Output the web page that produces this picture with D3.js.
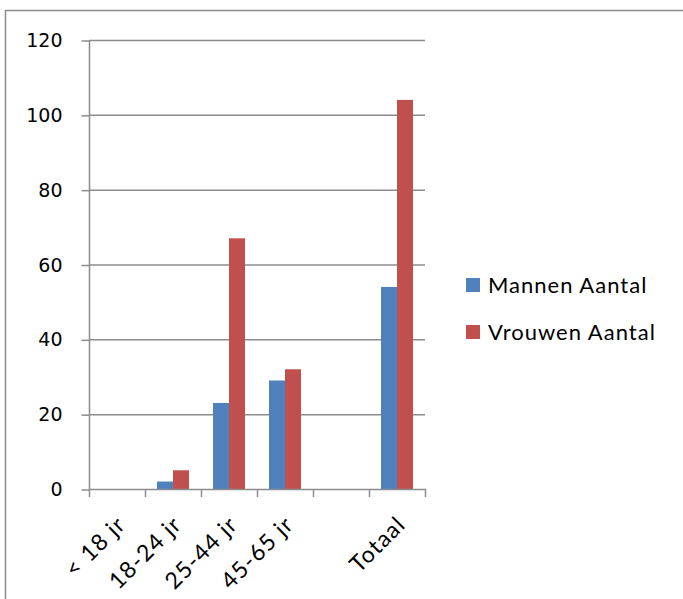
<!DOCTYPE html>
<html>
<head>
<meta charset="utf-8">
<script src="https://cdn.jsdelivr.net/npm/d3@7"></script>
<style>
  body { margin: 0; background: #fff; }
  svg { display: block; }
</style>
</head>
<body>
<svg id="chart" width="683" height="599"></svg>
<script>
const categories = ["< 18 jr", "18-24 jr", "25-44 jr", "45-65 jr", "", "Totaal"];
const seriesNames = ["Mannen Aantal", "Vrouwen Aantal"];
const mannen = [0, 2, 23, 29, 0, 54];
const vrouwen = [0, 5, 67, 32, 0, 104];
const yTicks = [0, 20, 40, 60, 80, 100, 120];
const colors = ["#4F81BD", "#C0504D"];

(function () {
const svg = d3.select("#chart");
const pL = 89, pR = 425, pT = 40, pB = 489;

// outer frame
svg.append("path")
  .attr("d", "M5.5,600 V10.5 H690")
  .attr("fill", "none").attr("stroke", "#8c8c8c").attr("stroke-width", 1.5);

const x = d3.scaleBand().domain(d3.range(categories.length)).range([pL, pR]).padding(0);
const y = d3.scaleLinear().domain([0, 120]).range([pB, pT]);
const inner = d3.scaleBand().domain([0, 1]).range([0, x.bandwidth()]).paddingInner(0).paddingOuter(0.75);

// gridlines
svg.append("g").selectAll("line").data(yTicks.filter(d => d > 0)).join("line")
  .attr("x1", pL).attr("x2", pR)
  .attr("y1", d => y(d) + 0.5).attr("y2", d => y(d) + 0.5)
  .attr("stroke", "#8c8c8c").attr("stroke-width", 1.5);

// bars
const data = [mannen, vrouwen];
data.forEach((vals, s) => {
  svg.append("g").selectAll("rect").data(vals).join("rect")
    .attr("x", (d, i) => x(i) + inner(s))
    .attr("width", inner.bandwidth())
    .attr("y", d => y(d))
    .attr("height", d => pB - y(d))
    .attr("fill", colors[s]);
});

// y axis
const yAxis = d3.axisLeft(y).tickValues(yTicks).tickSize(8).tickPadding(19);
const gy = svg.append("g").attr("transform", `translate(${pL + 0.5},0.5)`).call(yAxis);
gy.select(".domain").attr("stroke", "#8c8c8c").attr("stroke-width", 1.5).attr("d", `M0,${pT}V${pB}`);
gy.selectAll(".tick line").attr("stroke", "#8c8c8c").attr("stroke-width", 1.5);
gy.selectAll(".tick text").attr("font-family", "DejaVu Sans").attr("font-size", 19).attr("fill", "#000");

// x axis
const xEdges = d3.range(categories.length + 1).map(i => pL + i * x.bandwidth());
const gx = svg.append("g");
gx.append("line").attr("x1", pL).attr("x2", pR + 1).attr("y1", pB + 0.5).attr("y2", pB + 0.5)
  .attr("stroke", "#8c8c8c").attr("stroke-width", 1.5);
gx.selectAll("line.tk").data(xEdges).join("line").attr("class", "tk")
  .attr("x1", d => d + 0.5).attr("x2", d => d + 0.5)
  .attr("y1", pB).attr("y2", pB + 8)
  .attr("stroke", "#8c8c8c").attr("stroke-width", 1.5);
gx.selectAll("text").data(categories).join("text")
  .attr("transform", (d, i) => `translate(${x(i) + x.bandwidth() / 2 + 10},${pB + 37}) rotate(-45)`)
  .attr("text-anchor", "end")
  .attr("font-family", "Lato").attr("font-size", 23).attr("letter-spacing", 1.2).attr("fill", "#000")
  .text(d => d);

// legend
const lg = svg.append("g").attr("transform", "translate(466,278)");
seriesNames.forEach((name, i) => {
  const g = lg.append("g").attr("transform", `translate(0,${i * 47})`);
  g.append("rect").attr("width", 14).attr("height", 14).attr("fill", colors[i]);
  g.append("text").attr("x", 22).attr("y", 14.5)
    .attr("font-family", "Lato").attr("font-size", 22).attr("letter-spacing", 1).attr("fill", "#000").text(name);
});
})();
</script>
</body>
</html>
